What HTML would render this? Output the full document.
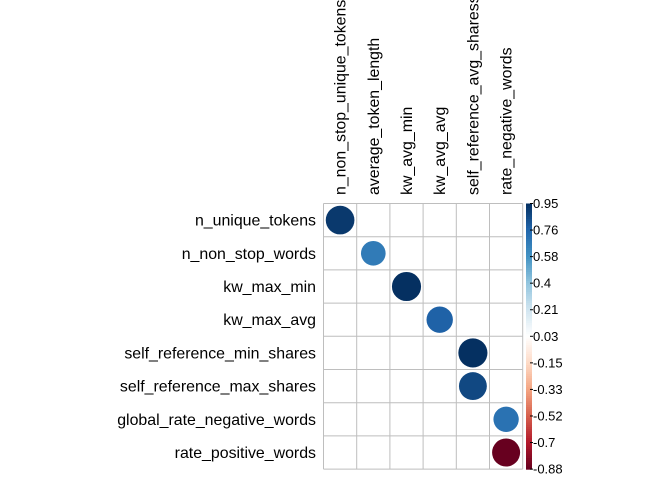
<!DOCTYPE html>
<html><head><meta charset="utf-8"><style>
html,body{margin:0;padding:0;background:#fff;}
svg text{font-family:"Liberation Sans",Arial,sans-serif;fill:#000;}
</style></head><body>
<svg id="chart" width="672" height="480" xmlns="http://www.w3.org/2000/svg"></svg>
<script>
const rowLabels=["n_unique_tokens","n_non_stop_words","kw_max_min","kw_max_avg","self_reference_min_shares","self_reference_max_shares","global_rate_negative_words","rate_positive_words"];
const colLabels=["n_non_stop_unique_tokens","average_token_length","kw_avg_min","kw_avg_avg","self_reference_avg_sharess","rate_negative_words"];
const cellCol=[0,1,2,3,4,4,5,5];
const corrValues=[0.92,0.68,0.95,0.78,0.95,0.87,0.72,-0.88];
const legendTicks=["0.95","0.76","0.58","0.4","0.21","0.03","-0.15","-0.33","-0.52","-0.7","-0.88"];
const vmin=-0.88,vmax=0.95;

const svg=document.getElementById('chart');
const NS="http://www.w3.org/2000/svg";
const X0=323.5,Y0=203.5,CW=33.2,CH=33.2;
const pal=["#67001F","#B2182B","#D6604D","#F4A582","#FDDBC7","#FFFFFF","#D1E5F0","#92C5DE","#4393C3","#2166AC","#053061"];
function hex(h){return [1,3,5].map(i=>parseInt(h.substr(i,2),16));}
function color(v){let t=(v-vmin)/(vmax-vmin)*10;t=Math.max(0,Math.min(10,t));let i=Math.min(9,Math.floor(t));let f=t-i;let a=hex(pal[i]),b=hex(pal[i+1]);return 'rgb('+a.map((c,k)=>Math.round(c+(b[k]-c)*f)).join(',')+')';}
function el(tag,attrs){const e=document.createElementNS(NS,tag);for(const k in attrs)e.setAttribute(k,attrs[k]);svg.appendChild(e);return e;}
const nR=rowLabels.length,nC=colLabels.length;
for(let i=0;i<=nC;i++){const l=el('line',{x1:X0+i*CW,y1:Y0,x2:X0+i*CW,y2:Y0+nR*CH,stroke:'#bebebe','stroke-width':1});

}
for(let j=0;j<=nR;j++){const l=el('line',{x1:X0,y1:Y0+j*CH,x2:X0+nC*CW,y2:Y0+j*CH,stroke:'#bebebe','stroke-width':1});

}
rowLabels.forEach((s,j)=>{const t=el('text',{x:316,y:Y0+j*CH+CH/2+5.5,'text-anchor':'end','font-size':'15.9px'});t.textContent=s;

});
colLabels.forEach((s,i)=>{const cx=X0+i*CW+CW/2+5.5;const t=el('text',{x:0,y:0,transform:'translate('+cx+',195) rotate(-90)','font-size':'15.9px'});t.textContent=s;

});
corrValues.forEach((v,j)=>{const cx=X0+cellCol[j]*CW+CW/2,cy=Y0+j*CH+CH/2;const r=0.45*CW*Math.sqrt(Math.abs(v));
const c=el('circle',{cx:cx,cy:cy,r:r,fill:color(v)});

});
const LX=526,LW=6,LT=Y0,LB=Y0+nR*CH;
const steps=120;
for(let k=0;k<steps;k++){const v=vmax-(vmax-vmin)*(k+0.5)/steps;const y=LT+(LB-LT)*k/steps;
const r=el('rect',{x:LX,y:y,width:LW,height:(LB-LT)/steps+0.6,fill:color(v)});

}
legendTicks.forEach((s,i)=>{const y=LT+(LB-LT)*i/(legendTicks.length-1);
const tk=el('line',{x1:LX+LW-2,y1:y,x2:LX+LW+1,y2:y,stroke:'#000','stroke-width':1});


const t=el('text',{x:LX+LW+1,y:y+4.5,'font-size':'13px'});t.textContent=s;

});
</script>
</body></html>
